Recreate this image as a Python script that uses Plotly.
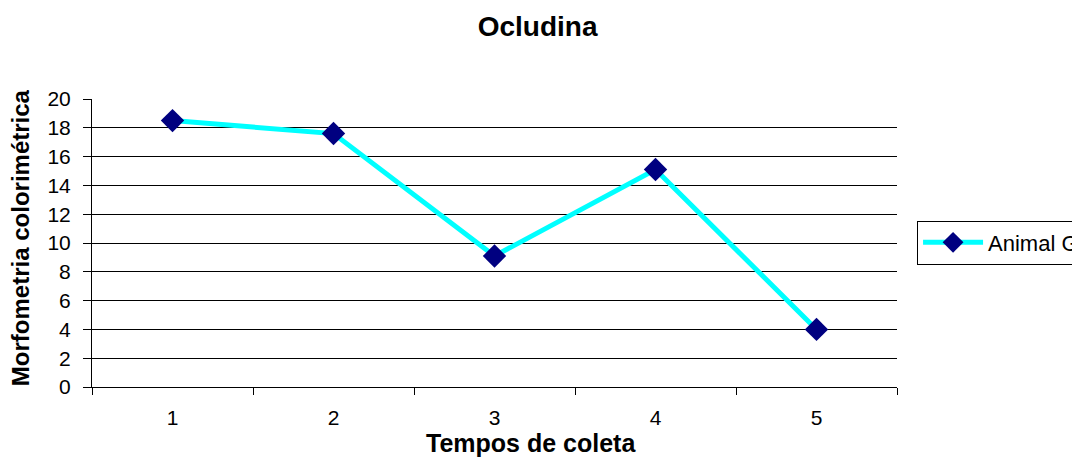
import plotly.graph_objects as go

categories = [1, 2, 3, 4, 5]
animal_g = [18.5, 17.6, 9.1, 15.1, 4.0]
y_ticks = [0, 2, 4, 6, 8, 10, 12, 14, 16, 18, 20]

fig = go.Figure()
fig.add_trace(go.Scatter(
    x=categories, y=animal_g, mode="lines+markers", name="Animal G",
    line=dict(color="#00FFFF", width=5),
    marker=dict(symbol="diamond", size=18, color="#000080", line=dict(width=0)),
))

fig.update_layout(
    width=1072, height=464,
    paper_bgcolor="white", plot_bgcolor="white",
    margin=dict(l=84, r=183, t=91, b=85),
    font=dict(family="Liberation Sans, Arial", size=21, color="black"),
    title=dict(text="<b>Ocludina</b>", x=0.494, xanchor="center", y=0.961, yanchor="middle",
               font=dict(size=28)),
    showlegend=True,
    legend=dict(xref="container", yref="container", x=0.848, xanchor="left",
                y=0.4946, yanchor="middle",
                bordercolor="black", borderwidth=1, bgcolor="white",
                font=dict(size=22), itemwidth=60),
    annotations=[
        dict(text="<b>Tempos de coleta</b>", xref="paper", yref="paper",
             x=0.545, y=-0.196, xanchor="center", yanchor="middle",
             showarrow=False, font=dict(size=25)),
        dict(text="<b>Morfometria colorimétrica</b>", xref="paper", yref="paper",
             x=-0.0894, y=0.517, xanchor="center", yanchor="middle", textangle=-90,
             showarrow=False, font=dict(size=24)),
    ],
)
fig.update_xaxes(
    range=[0.5, 5.5], tickvals=categories, ticktext=[str(c) for c in categories],
    ticks="outside", ticklen=12, tickcolor="rgba(0,0,0,0)", showgrid=False, zeroline=False,
    showline=True, linecolor="black", linewidth=1,
    minor=dict(tick0=0.5, dtick=1, ticks="outside", ticklen=7, tickcolor="black", showgrid=False),
)
fig.update_yaxes(
    range=[0, 20], tickvals=y_ticks, ticks="outside", ticklen=8, tickcolor="black",
    ticklabelstandoff=8,
    showgrid=True, gridcolor="black", gridwidth=1, zeroline=False,
    showline=True, linecolor="black", linewidth=1,
)

fig.write_html("out.html")
